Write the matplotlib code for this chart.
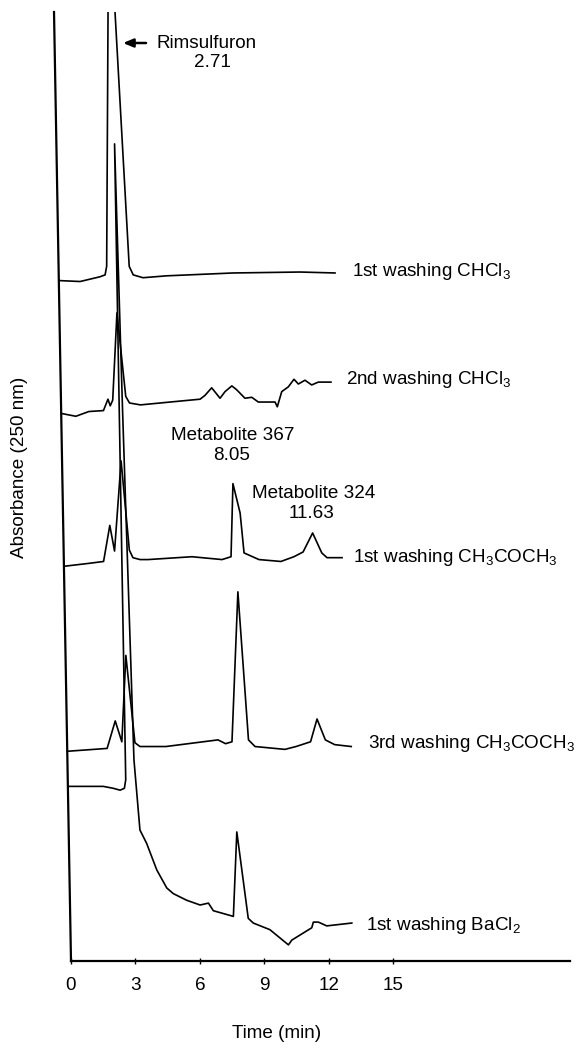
import numpy as np
import matplotlib.pyplot as plt
from matplotlib.patches import Rectangle
from matplotlib.transforms import Affine2D

plt.rcParams['font.family'] = ['Liberation Sans', 'DejaVu Sans']
plt.rcParams['mathtext.fontset'] = 'custom'
plt.rcParams['mathtext.rm'] = 'Liberation Sans'
plt.rcParams['mathtext.it'] = 'Liberation Sans:italic'

# retention time (min) and stacked absorbance (arbitrary units)
t_chcl3_1 = [0.0, 0.99, 1.92, 2.16, 2.24, 2.64, 3.29, 3.47, 3.92, 5.03, 8.12, 11.24, 12.87]
a_chcl3_1 = [71.7, 71.6, 72.1, 72.3, 73.2, 112.0, 73.2, 72.3, 72.0, 72.2, 72.5, 72.6, 72.5]

t_chcl3_2 = [0.0, 0.68, 1.29, 1.97, 2.19, 2.29, 2.41, 2.68, 3.02, 3.19, 3.70, 5.08, 6.48,
             6.71, 7.03, 7.41, 7.65, 7.97, 8.19, 8.57, 8.89, 9.19, 9.73, 9.97, 10.07,
             10.29, 10.60, 10.87, 11.07, 11.38, 11.69, 12.00, 12.59]
a_chcl3_2 = [57.7, 57.4, 57.9, 58.0, 59.2, 58.5, 59.1, 68.3, 59.5, 58.8, 58.6, 58.9, 59.2,
             59.6, 60.4, 59.3, 60.0, 60.6, 60.2, 59.3, 59.4, 58.9, 58.9, 58.9, 58.4,
             60.0, 60.5, 61.3, 60.8, 61.2, 60.7, 61.0, 61.0]

t_acet_1 = [0.03, 1.16, 1.85, 2.17, 2.37, 2.75, 3.06, 3.22, 3.55, 3.92, 5.97, 7.37, 7.79,
            7.94, 8.25, 8.40, 9.09, 10.11, 10.72, 11.15, 11.61, 12.02, 12.26, 12.96]
a_acet_1 = [41.6, 41.9, 42.1, 45.9, 43.2, 52.7, 43.3, 42.5, 42.3, 42.3, 42.6, 42.3, 42.6,
            50.3, 47.2, 43.0, 42.3, 42.1, 42.6, 43.1, 45.1, 43.0, 42.5, 42.5]

t_acet_3 = [0.0, 1.86, 2.26, 2.55, 2.81, 3.16, 3.39, 4.60, 7.03, 7.38, 7.68, 8.08, 8.45,
            8.75, 10.14, 10.66, 11.34, 11.66, 12.03, 12.46, 13.23]
a_acet_3 = [22.1, 22.4, 25.3, 23.1, 32.2, 23.0, 22.6, 22.6, 23.3, 22.9, 23.1, 38.9, 23.3,
            22.6, 22.3, 22.6, 23.1, 25.5, 23.3, 22.8, 22.6]

t_bacl2 = [0.0, 1.65, 2.11, 2.43, 2.63, 2.70, 2.71, 2.86, 3.10, 3.32, 3.62, 4.07, 4.52,
           4.82, 5.44, 6.06, 6.45, 6.67, 7.60, 7.83, 8.29, 8.52, 9.29, 10.14, 10.30,
           11.24, 11.32, 11.55, 11.94, 13.11]
a_bacl2 = [18.4, 18.4, 18.2, 18.0, 18.2, 19.1, 86.1, 58.1, 21.2, 13.8, 12.4, 9.6, 7.7,
           7.1, 6.4, 5.9, 6.1, 5.3, 4.7, 13.6, 4.5, 4.0, 3.3, 1.7, 2.2,
           3.5, 4.1, 4.1, 3.7, 4.0]

x_ticks = [0, 3, 6, 9, 12, 15]

W, H = 577, 1044
FS = 13.6
LEAN = 0.0179  # the scanned chart leans left going up


def px(x, y):
    return x / W, 1 - y / H


fig = plt.figure(figsize=(W / 100, H / 100), dpi=100)
ax = fig.add_axes([71 / W, 83 / H, 499 / W, 949 / H])
ax.set_xlim(0, 23.24)
ax.set_ylim(0, 100)

y0 = ax.transData.transform((0, 0))[1]
shear = Affine2D(np.array([[1, -LEAN, LEAN * y0], [0, 1, 0], [0, 0, 1]], float))
lean = ax.transData + shear

# clip only at the top, the leaning traces start left of the axes box
clip = Rectangle((-0.2, -0.1), 1.4, 1.1, transform=ax.transAxes, fill=False, visible=False)
ax.add_patch(clip)

traces = [(t_chcl3_1, a_chcl3_1), (t_chcl3_2, a_chcl3_2), (t_acet_1, a_acet_1),
          (t_acet_3, a_acet_3), (t_bacl2, a_bacl2)]
for t, a in traces:
    line, = ax.plot(t, a, color='black', lw=1.2, transform=lean, solid_joinstyle='round')
    line.set_clip_path(clip)

# leaning y axis line
ax.plot([0, 0], [0, 100], color='black', lw=1.6, transform=lean, clip_on=False)
ax.set_xlim(0, 23.24)
ax.set_ylim(0, 100)

for s in ['left', 'top', 'right']:
    ax.spines[s].set_visible(False)
ax.spines['bottom'].set_linewidth(1.6)
ax.set_yticks([])
ax.set_xticks(x_ticks)
ax.set_xticklabels([str(v) for v in x_ticks])
ax.tick_params(axis='x', direction='inout', length=5, width=1, labelsize=FS, pad=9)

fig.text(*px(277, 1033), 'Time (min)', ha='center', va='center', fontsize=FS)
fig.text(*px(20, 467), 'Absorbance (250 nm)', ha='center', va='center',
         rotation=90, fontsize=FS)

# trace labels
fig.text(*px(352, 272), r'1st washing CHCl$_\mathregular{3}$', va='center', fontsize=FS)
fig.text(*px(346, 380), r'2nd washing CHCl$_\mathregular{3}$', va='center', fontsize=FS)
fig.text(*px(353, 558), r'1st washing CH$_\mathregular{3}$COCH$_\mathregular{3}$',
         va='center', fontsize=FS)
fig.text(*px(368, 743), r'3rd washing CH$_\mathregular{3}$COCH$_\mathregular{3}$',
         va='center', fontsize=FS)
fig.text(*px(366, 925), r'1st washing BaCl$_\mathregular{2}$', va='center', fontsize=FS)

# peak annotations
fig.text(*px(157, 43), 'Rimsulfuron', va='center', fontsize=FS)
fig.text(*px(212, 62), '2.71', ha='center', va='center', fontsize=FS)
ax.annotate('', xy=px(123, 43), xycoords='figure fraction',
            xytext=px(146, 43), textcoords='figure fraction',
            arrowprops=dict(arrowstyle='-|>,head_length=0.6,head_width=0.25',
                            lw=1.8, color='black', shrinkA=0, shrinkB=0),
            annotation_clip=False)
fig.text(*px(233, 436), 'Metabolite 367', ha='center', va='center', fontsize=FS)
fig.text(*px(232, 456), '8.05', ha='center', va='center', fontsize=FS)
fig.text(*px(314, 493), 'Metabolite 324', ha='center', va='center', fontsize=FS)
fig.text(*px(312, 513), '11.63', ha='center', va='center', fontsize=FS)

fig.savefig('out.png', dpi=100, facecolor='white')
